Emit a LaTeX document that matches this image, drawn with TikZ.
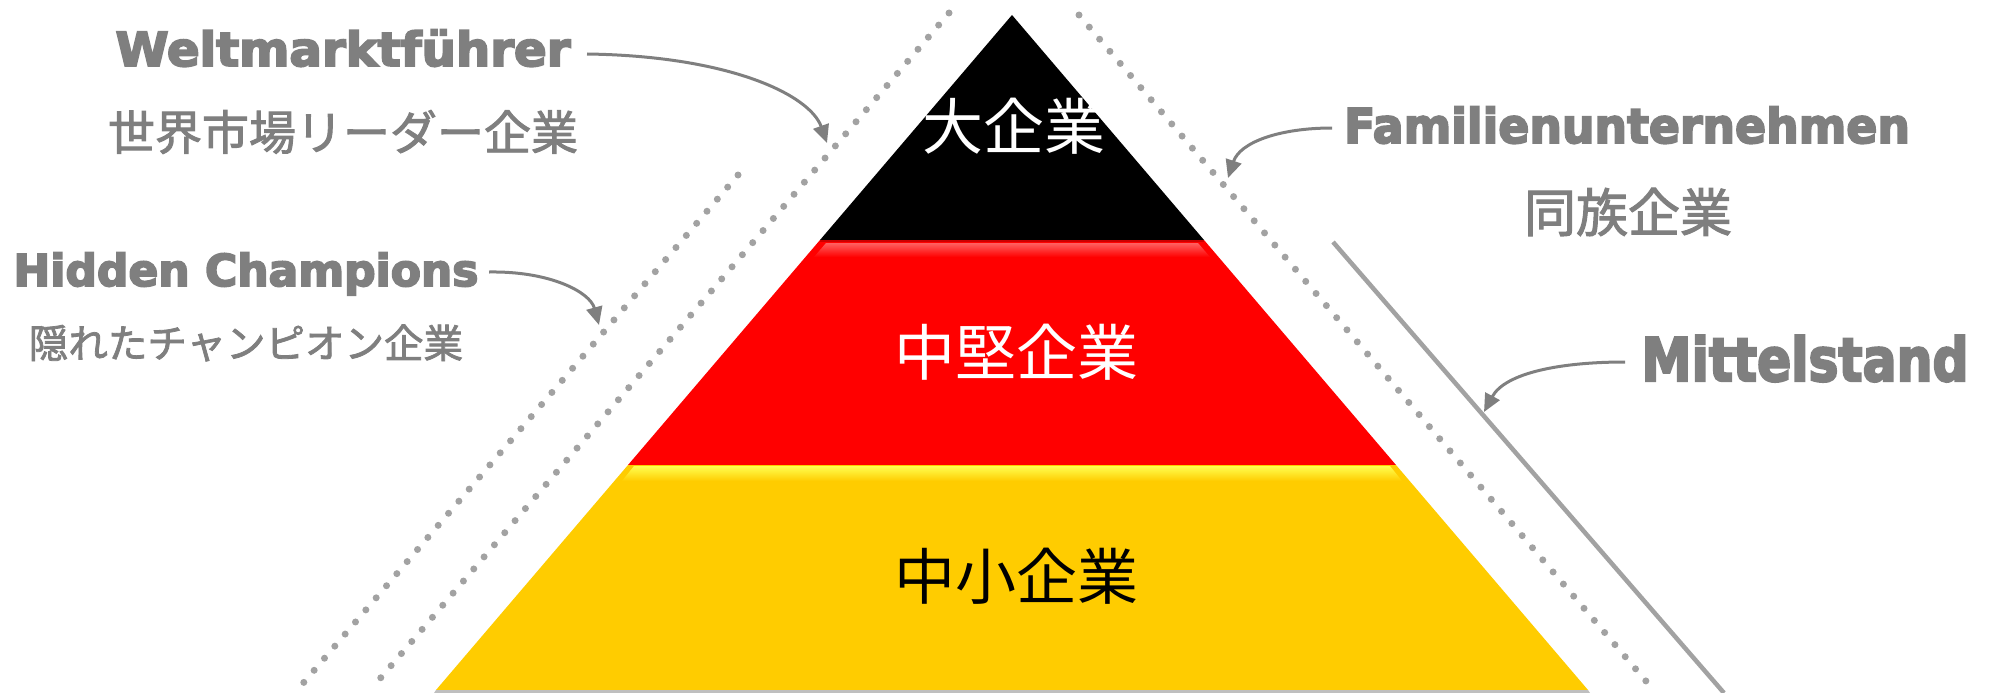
\documentclass[tikz,border=0pt]{standalone}
\usepackage{fontspec}
\usetikzlibrary{arrows.meta}
\newfontfamily\labfont{DejaVu Sans}[BoldFeatures={FakeBold=4}]
\newfontfamily\jp{Noto Sans CJK JP}
\newfontfamily\jpm{Noto Sans CJK JP}[FakeBold=2]
\definecolor{labgray}{HTML}{7F7F7F}
\definecolor{dotgray}{HTML}{A2A2A2}
\definecolor{pyred}{HTML}{FF0000}
\definecolor{pyyellow}{HTML}{FFCC00}
\definecolor{hiyellow}{HTML}{FFFF50}
\definecolor{hired}{HTML}{FF6060}
\begin{document}
\begin{tikzpicture}[x=1pt,y=-1pt,
  dotline/.style={draw=dotgray, line width=7pt, line cap=round, dash pattern=on 0pt off 15.9pt},
  solidline/.style={draw=dotgray, line width=4.5pt},
  callout/.style={draw=labgray, line width=3pt, -{Triangle[length=18pt,width=16pt]}},
  latlab/.style={text=labgray, inner sep=0pt, anchor=base},
  jplab/.style={text=labgray, inner sep=0pt},
  tierlab/.style={inner sep=0pt, font={\jp\fontsize{61}{70}\selectfont}}]
\useasboundingbox (0,0) rectangle (1991,693);
% pyramid tiers
\fill[black] (1012,15) -- (1204,240) -- (820,240) -- cycle;
\fill[pyred] (820,240) -- (1204,240) -- (1396,465) -- (628,465) -- cycle;
\fill[pyyellow] (628,465) -- (1396,465) -- (1588,690) -- (436,690) -- cycle;
% glossy highlights
\shade[top color=hired, bottom color=pyred] (826,243) -- (1198,243) -- (1210,257) -- (814,257) -- cycle;
\fill[red!80!black] (820,240) rectangle (1204,242);
\shade[top color=hiyellow, bottom color=pyyellow] (634,466) -- (1390,466) -- (1402,481) -- (622,481) -- cycle;
\fill[gray!50] (436,690) -- (1588,690) -- (1590,693) -- (434,693) -- cycle;
% guide lines
\draw[dotline] (949,13) -- (372,688);
\draw[dotline] (738,175) -- (299,688);
\draw[dotline] (1079,15) -- (1651,687);
\draw[solidline] (1333,242) -- (1724,693);
% tier labels
\node[tierlab, text=white] (t1) at (1014,126) {大企業};
\node[tierlab, text=white] (t2) at (1016,352) {中堅企業};
\node[tierlab, text=black] (t3) at (1016,576) {中小企業};
% side labels
\node[latlab, font={\labfont\bfseries\fontsize{47}{50}\selectfont}] (wl) at (343,66) {\scalebox{1.025}[1]{Weltmarktführer}};
\node[jplab, font={\jpm\fontsize{47}{50}\selectfont}] (wj) at (343,132) {世界市場リーダー企業};
\node[latlab, font={\labfont\bfseries\fontsize{44}{50}\selectfont}] (hl) at (246,286) {Hidden Champions};
\node[jplab, font={\jpm\fontsize{39.5}{45}\selectfont}] (hj) at (246,343) {隠れたチャンピオン企業};
\node[latlab, font={\labfont\bfseries\fontsize{48}{50}\selectfont}] (fl) at (1627,143) {\scalebox{0.953}[1]{Familienunternehmen}};
\node[jplab, font={\jpm\fontsize{52}{60}\selectfont}] (fj) at (1628,212) {同族企業};
\node[latlab, font={\labfont\bfseries\fontsize{60}{64}\selectfont}] (ml) at (1805,381) {\scalebox{0.84}[1]{Mittelstand}};
% callout arrows
\coordinate (wS) at (587,54);   \coordinate (wT) at (827,143);
\coordinate (hS) at (489,272);  \coordinate (hT) at (599,325);
\coordinate (fS) at (1332,128); \coordinate (fT) at (1228,178);
\coordinate (mS) at (1625,362); \coordinate (mT) at (1484,412);
\draw[callout] (wS) .. controls (730,56) and (810,95) .. (wT);
\draw[callout] (hS) .. controls (550,271) and (590,292) .. (hT);
\draw[callout] (fS) .. controls (1280,128) and (1240,142) .. (fT);
\draw[callout] (mS) .. controls (1560,362) and (1505,373) .. (mT);
\end{tikzpicture}
\end{document}
